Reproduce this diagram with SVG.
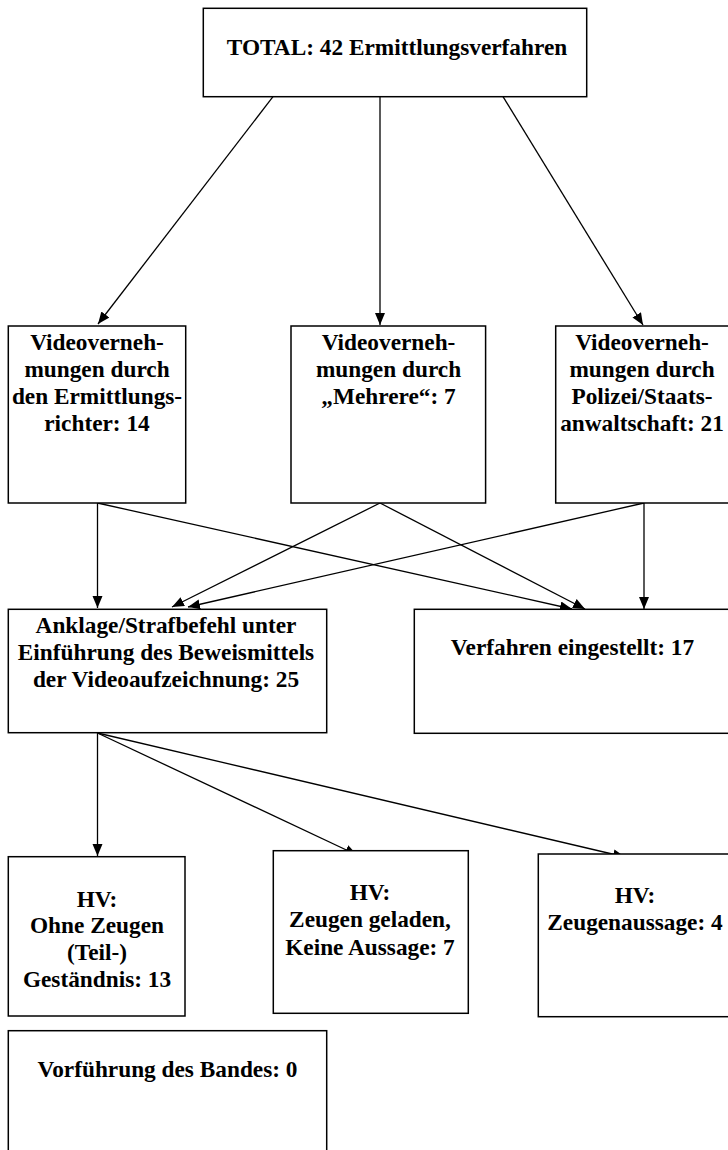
<svg xmlns="http://www.w3.org/2000/svg" width="728" height="1150" viewBox="0 0 728 1150">
<style>
.box{fill:#fff;stroke:#000;stroke-width:1.5}
.t{font-family:"Liberation Serif","Times New Roman",serif;font-weight:bold;font-size:23.3px;text-anchor:middle;fill:#000}
.c{stroke:#000;stroke-width:1.3;fill:none;marker-end:url(#ah)}
</style>
<defs>
<marker id="ah" markerUnits="userSpaceOnUse" markerWidth="13" markerHeight="11" refX="12" refY="5" orient="auto">
<path d="M0,0 L12,5 L0,10 z" fill="#000"/>
</marker>
</defs>
<rect width="728" height="1150" fill="#fff"/>
<g id="connectors">
<line class="c" x1="273" y1="96.7" x2="98" y2="324"/>
<line class="c" x1="380" y1="96.7" x2="380" y2="325"/>
<line class="c" x1="503" y1="96.7" x2="643" y2="325"/>
<line class="c" x1="97.5" y1="503" x2="97.5" y2="608"/>
<line class="c" x1="97.5" y1="503" x2="572" y2="609"/>
<line class="c" x1="380" y1="503" x2="172" y2="607"/>
<line class="c" x1="380" y1="503" x2="585" y2="609"/>
<line class="c" x1="644" y1="503" x2="188" y2="607"/>
<line class="c" x1="644" y1="503" x2="644" y2="609"/>
<line class="c" x1="97.5" y1="733" x2="97.5" y2="856"/>
<line class="c" x1="97.5" y1="733" x2="357" y2="855"/>
<line class="c" x1="97.5" y1="733" x2="625" y2="857"/>
</g>
<g id="total">
<rect class="box" x="203.3" y="8.3" width="383.4" height="88.4"/>
<text class="t" x="397" y="55">TOTAL: 42 Ermittlungsverfahren</text>
</g>
<g id="richter">
<rect class="box" x="8.3" y="326" width="177.4" height="177"/>
<text class="t" x="97" y="349.5">Videoverneh-</text>
<text class="t" x="97" y="376.5">mungen durch</text>
<text class="t" x="97" y="403.5">den Ermittlungs-</text>
<text class="t" x="97" y="430.5">richter: 14</text>
</g>
<g id="mehrere">
<rect class="box" x="291" y="326" width="194.6" height="177"/>
<text class="t" x="388.5" y="349.5">Videoverneh-</text>
<text class="t" x="388.5" y="376.5">mungen durch</text>
<text class="t" x="388.5" y="403.5">„Mehrere“: 7</text>
</g>
<g id="polizei">
<rect class="box" x="555.7" y="326" width="175.5" height="177"/>
<text class="t" x="642" y="349.5">Videoverneh-</text>
<text class="t" x="642" y="376.5">mungen durch</text>
<text class="t" x="642" y="403.5">Polizei/Staats-</text>
<text class="t" x="642" y="430.5">anwaltschaft: 21</text>
</g>
<g id="anklage">
<rect class="box" x="8.3" y="609.3" width="318.4" height="123.4"/>
<text class="t" x="166" y="632.7">Anklage/Strafbefehl unter</text>
<text class="t" x="166" y="659.7">Einführung des Beweismittels</text>
<text class="t" x="166" y="686.7">der Videoaufzeichnung: 25</text>
</g>
<g id="eingestellt">
<rect class="box" x="414.3" y="609.3" width="317" height="124"/>
<text class="t" x="572.5" y="655">Verfahren eingestellt: 17</text>
</g>
<g id="hv1">
<rect class="box" x="8.3" y="856.7" width="176.7" height="159.3"/>
<text class="t" x="97" y="906.7">HV:</text>
<text class="t" x="97" y="933.3">Ohne Zeugen</text>
<text class="t" x="97" y="960">(Teil-)</text>
<text class="t" x="97" y="986.7">Geständnis: 13</text>
</g>
<g id="hv2">
<rect class="box" x="273.3" y="850.7" width="195" height="162.6"/>
<text class="t" x="370" y="900">HV:</text>
<text class="t" x="370" y="927.3">Zeugen geladen,</text>
<text class="t" x="370" y="955">Keine Aussage: 7</text>
</g>
<g id="hv3">
<rect class="box" x="538.3" y="854" width="193" height="162.7"/>
<text class="t" x="635" y="903.3">HV:</text>
<text class="t" x="635" y="930">Zeugenaussage: 4</text>
</g>
<g id="vorfuehrung">
<rect class="box" x="8.3" y="1030.7" width="318.4" height="130"/>
<text class="t" x="167.5" y="1076.7">Vorführung des Bandes: 0</text>
</g>
</svg>
